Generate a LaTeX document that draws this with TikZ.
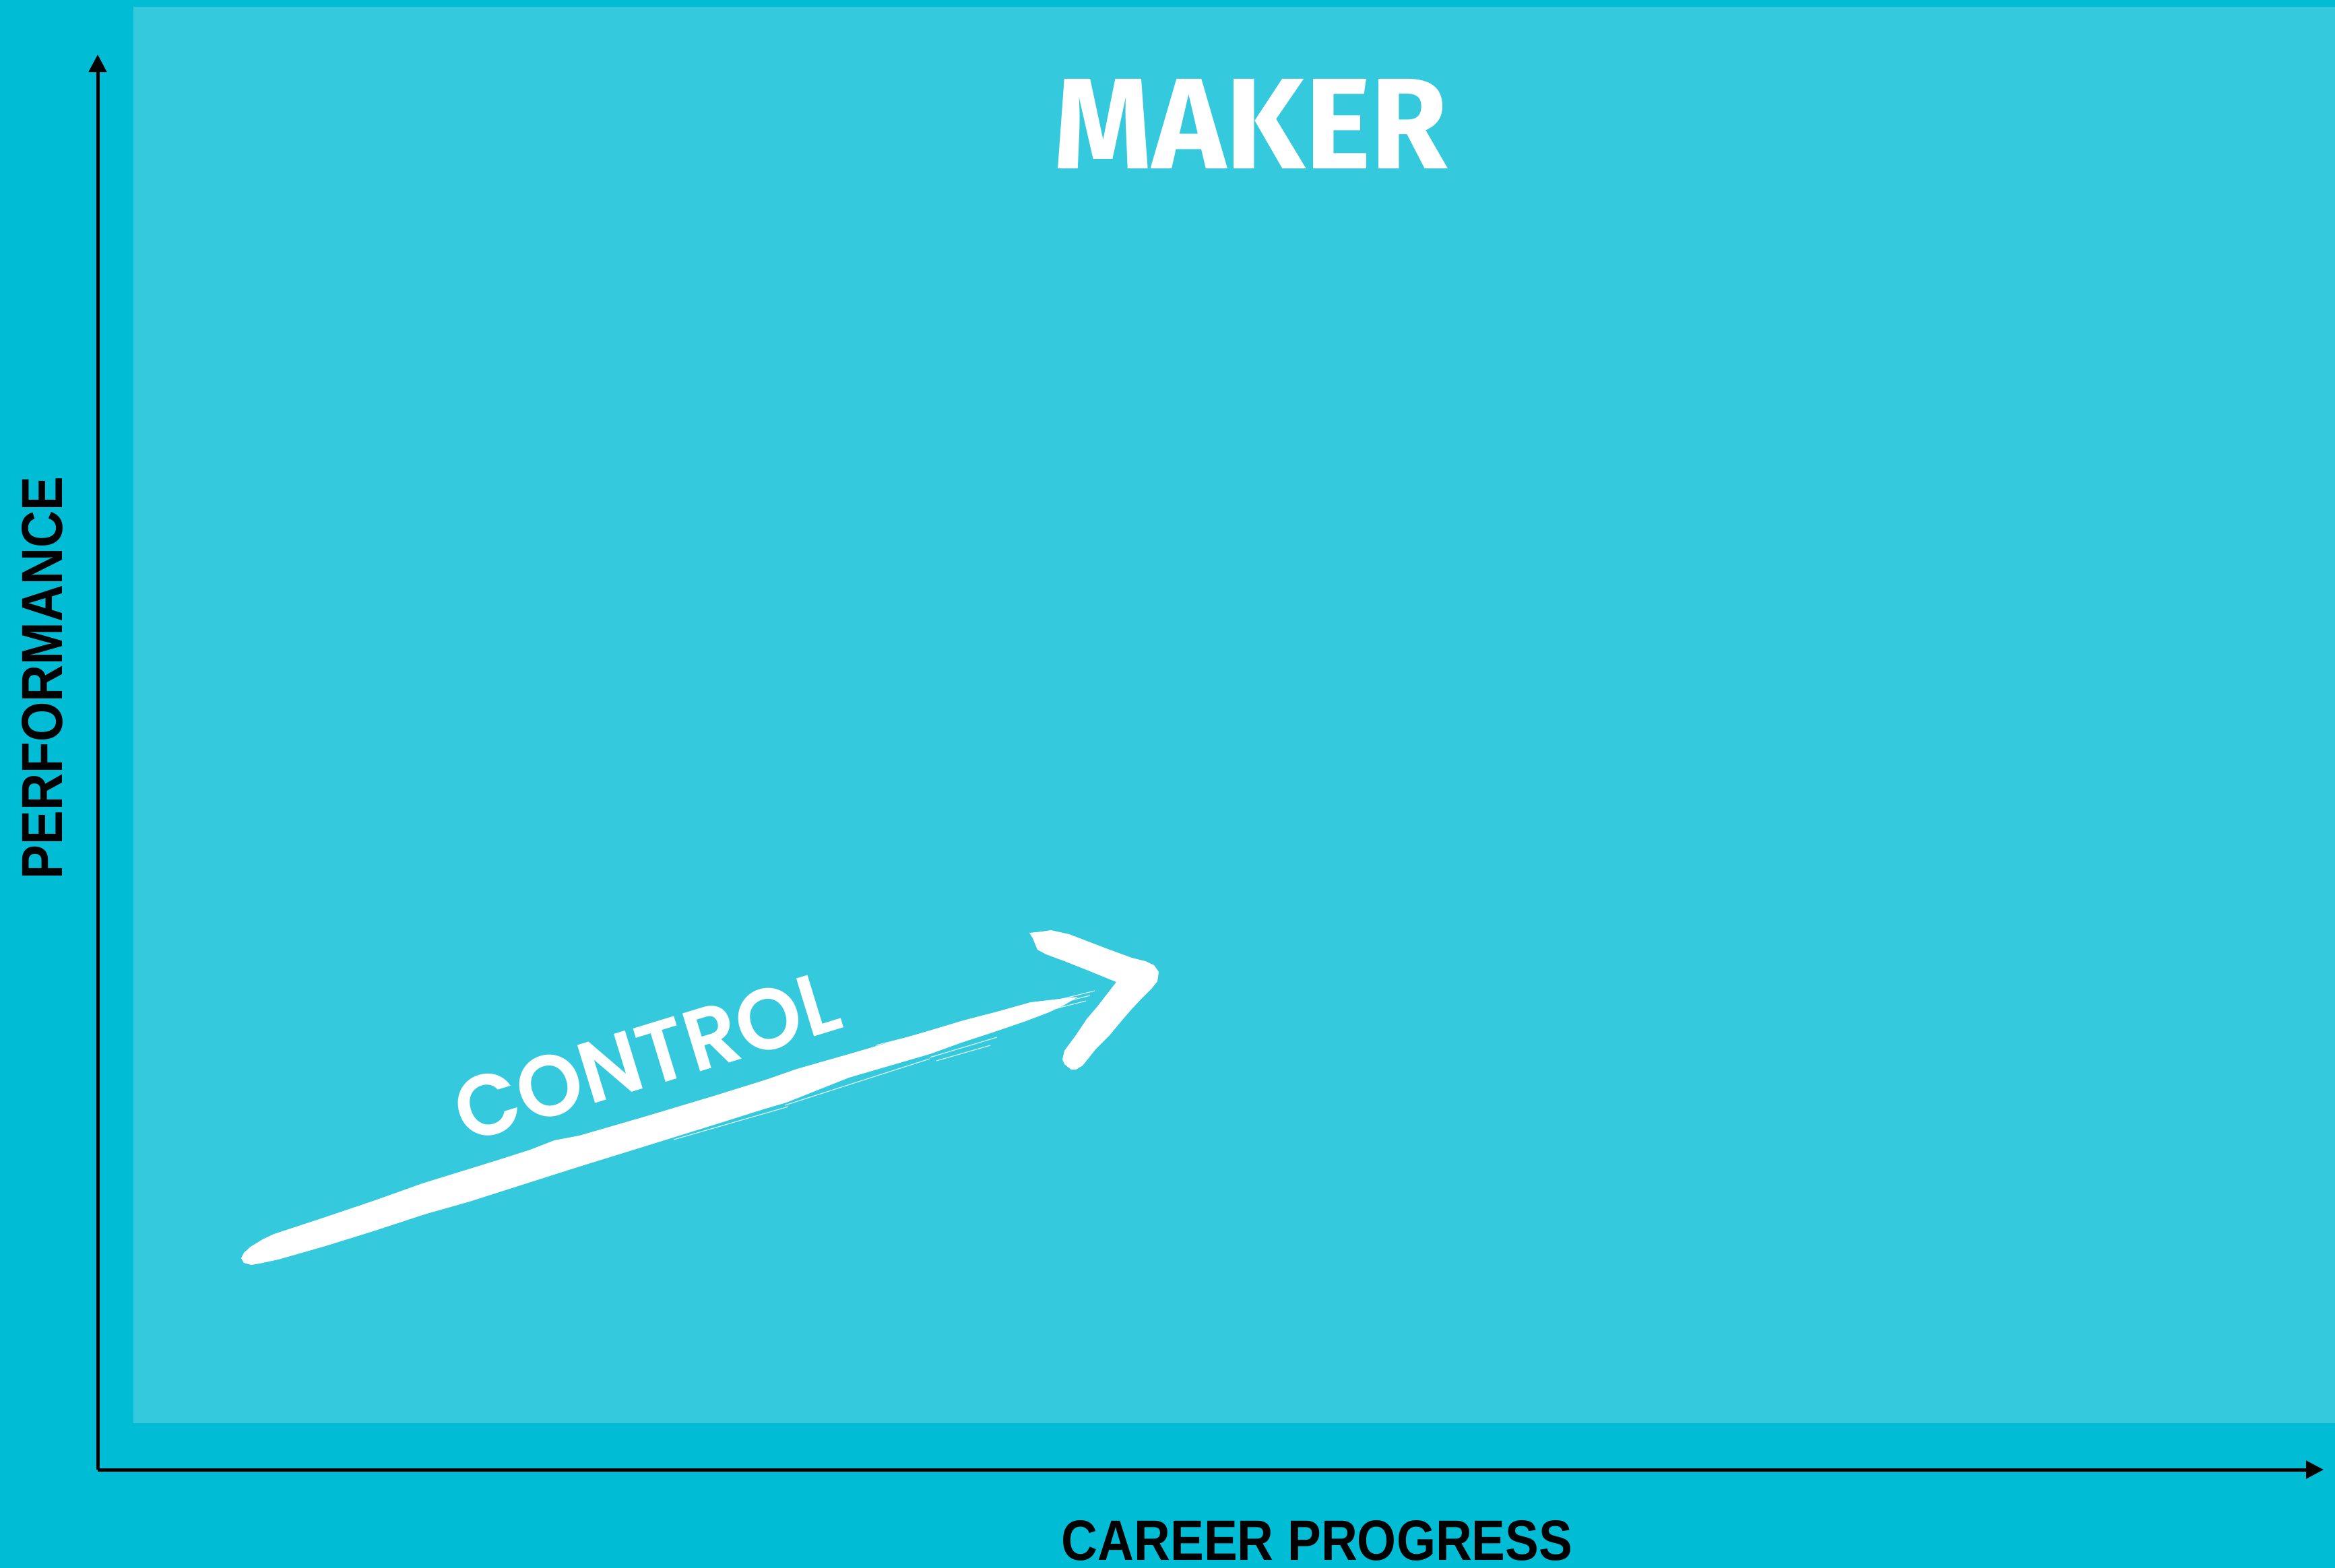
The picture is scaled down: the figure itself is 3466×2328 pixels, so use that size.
\documentclass[tikz,border=0pt]{standalone}
\usepackage{fontspec}
\usepackage{graphicx}
\usetikzlibrary{arrows.meta}
\newfontfamily\axisfont{Liberation Sans}
\newfontfamily\makerfont{Fira Sans}
\newfontfamily\ctrlfont{Poppins SemiBold}
\definecolor{outerbg}{HTML}{00BCD5}
\definecolor{innerbg}{HTML}{34C9DD}
\begin{document}
\begin{tikzpicture}[x=0.01cm,y=-0.01cm,
  axisline/.style={line width=0.05cm, black, -{Triangle[length=0.26cm,width=0.26cm]}},
  axislabel/.style={inner sep=0pt, outer sep=0pt, text=black},
  titlelabel/.style={inner sep=0pt, outer sep=0pt, text=white},
  brush/.style={fill=white, draw=none},
  streak/.style={draw=white, line width=0.012cm, opacity=0.85}]
\useasboundingbox (0,0) rectangle (3466,2328);
\fill[outerbg] (0,0) rectangle (3466,2328);
\fill[innerbg] (198,10) rectangle (3466,2113);
% axes
\coordinate (origin) at (145,2182);
\coordinate (ytip) at (145,81);
\coordinate (xtip) at (3449,2182);
\draw[axisline] (origin) -- (ytip);
\draw[axisline] (origin) -- (xtip);
% labels
\node[titlelabel] (maker) at (1857,183.5) {\resizebox{5.84cm}{1.33cm}{\makerfont\bfseries MAKER}};
\node[axislabel] (career) at (1955,2287) {\resizebox{7.58cm}{0.59cm}{\axisfont\bfseries CAREER PROGRESS}};
\node[axislabel, rotate=90] (perf) at (62.5,1006.5) {\resizebox{5.97cm}{0.60cm}{\axisfont\bfseries PERFORMANCE}};
\node[titlelabel, rotate=17] (control) at (960,1568) {\resizebox{5.88cm}{0.91cm}{\ctrlfont CONTROL}};
% brush shaft
\fill[brush] (358,1868) -- (362,1860) -- (372,1851) -- (390,1840) -- (407,1832) -- (483,1807) -- (557,1782) -- (627,1757) -- (737,1723) -- (787,1707) -- (823,1693) -- (860,1686) -- (960,1657) -- (1060,1627) -- (1137,1603) -- (1183,1587) -- (1260,1565) -- (1380,1530) -- (1430,1515) -- (1480,1502) -- (1530,1488) -- (1573,1483) -- (1600,1480)
 -- (1580,1492) -- (1557,1503) -- (1520,1517) -- (1473,1533) -- (1430,1547) -- (1380,1565) -- (1260,1600) -- (1167,1637) -- (1133,1647) -- (1060,1670) -- (957,1702) -- (860,1732) -- (747,1768) -- (697,1784) -- (630,1803) -- (557,1827) -- (483,1850) -- (413,1870) -- (385,1876) -- (373,1878) -- (362,1875) -- cycle;
% streaks
\draw[streak] (1300,1552) -- (1625,1471);
\draw[streak] (1350,1545) -- (1618,1478);
\draw[streak] (1400,1540) -- (1612,1486);
\draw[streak] (1380,1570) -- (1480,1540);
\draw[streak] (1390,1575) -- (1470,1552);
\draw[streak] (1165,1641) -- (1380,1572);
\draw[streak] (1000,1692) -- (1170,1643);
\draw[streak] (1180,1592) -- (1330,1548);
% chevron head
\fill[brush] (1528,1385) -- (1547,1383) -- (1560,1381) -- (1587,1387) -- (1613,1397) -- (1647,1410) -- (1680,1422) -- (1700,1427) -- (1713,1433) -- (1720,1443) -- (1718,1457) -- (1710,1467)
 -- (1697,1480) -- (1680,1498) -- (1667,1513) -- (1647,1537) -- (1627,1557) -- (1607,1582) -- (1597,1588)
 -- (1590,1588) -- (1580,1580) -- (1577,1573) -- (1580,1560)
 -- (1597,1537) -- (1613,1513) -- (1630,1493) -- (1657,1458)
 -- (1613,1440) -- (1580,1427) -- (1553,1417) -- (1540,1410) -- (1537,1403) -- (1533,1393) -- cycle;
\end{tikzpicture}
\end{document}
